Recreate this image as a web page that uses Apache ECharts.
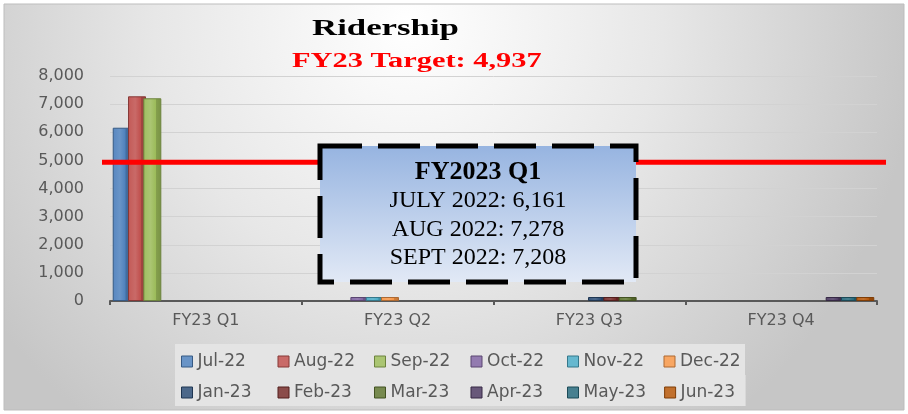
<!DOCTYPE html>
<html>
<head>
<meta charset="utf-8">
<script src="https://cdn.jsdelivr.net/npm/echarts@6/dist/echarts.min.js"></script>
<style>
  html, body { margin: 0; padding: 0; background: #fff; }
  #chart { width: 908px; height: 414px; }
</style>
</head>
<body>
<div id="chart"></div>
<script>
  var categories = ['FY23 Q1', 'FY23 Q2', 'FY23 Q3', 'FY23 Q4'];
  var months = ['Jul-22', 'Aug-22', 'Sep-22', 'Oct-22', 'Nov-22', 'Dec-22',
                'Jan-23', 'Feb-23', 'Mar-23', 'Apr-23', 'May-23', 'Jun-23'];
  // riders per month, three months per quarter
  var q1Riders = [6161, 7278, 7208];
  var q2Riders = [0, 0, 0];
  var q3Riders = [0, 0, 0];
  var q4Riders = [0, 0, 0];
  var target = 4937;
  var yMax = 8000;
  var yStep = 1000;
  var chartTitle = 'Ridership';
  var boxTitle = 'FY2023 Q1';
  var boxMonths = ['JULY 2022', 'AUG 2022', 'SEPT 2022'];

  var colors = ['#4F81BD', '#C0504D', '#9BBB59', '#8064A2', '#4BACC6', '#F79646',
                '#2C4D75', '#772C2A', '#5F7530', '#4D3B62', '#276A7C', '#B65708'];

  function fmt(v) { return Number(v).toLocaleString('en-US'); }

  function shade(hex, f) {
    var n = parseInt(hex.slice(1), 16);
    var r = n >> 16, g = (n >> 8) & 255, b = n & 255;
    function c(x) {
      x = f > 0 ? x + (255 - x) * f : x * (1 + f);
      return Math.round(Math.max(0, Math.min(255, x)));
    }
    return 'rgb(' + c(r) + ',' + c(g) + ',' + c(b) + ')';
  }

  var quarters = [q1Riders, q2Riders, q3Riders, q4Riders];

  var series = months.map(function (m, i) {
    var q = Math.floor(i / 3);
    var data = categories.map(function (c, k) {
      return k === q ? quarters[q][i % 3] : null;
    });
    var base = colors[i];
    return {
      name: m,
      type: 'bar',
      data: data,
      barWidth: 18,
      barGap: '-15%',
      barMinHeight: 4,
      itemStyle: {
        color: new echarts.graphic.LinearGradient(0, 0, 1, 0, [
          {offset: 0, color: shade(base, 0.05)},
          {offset: 0.4, color: shade(base, 0.15)},
          {offset: 0.7, color: base},
          {offset: 0.72, color: shade(base, -0.15)},
          {offset: 1, color: shade(base, -0.22)}
        ]),
        borderColor: shade(base, -0.3),
        borderWidth: 1
      }
    };
  });

  // target line on its own wider grid, same value scale
  series.push({
    name: 'Target',
    type: 'line',
    xAxisIndex: 1,
    yAxisIndex: 1,
    data: [[0, target], [1, target]],
    symbol: 'none',
    lineStyle: {color: '#FF0000', width: 5},
    z: 10,
    silent: true
  });

  function legendRow(names, offset, top) {
    return {
      data: names.map(function (m, i) {
        var c = colors[offset + i];
        return {name: m, itemStyle: {color: shade(c, 0.15), borderColor: shade(c, -0.3), borderWidth: 1}};
      }),
      left: 175,
      top: top,
      padding: [6, 3, 2, 6],
      itemGap: 18,
      itemWidth: 11,
      itemHeight: 11,
      icon: 'rect',
      selectedMode: false,
      backgroundColor: '#e4e4e4',
      textStyle: {fontFamily: 'DejaVu Sans', fontSize: 17, color: '#595959', width: 62, lineHeight: 23}
    };
  }

  var boxX = 320, boxY = 146, boxW = 316, boxH = 136, boxCx = boxX + boxW / 2;
  var boxLines = boxMonths.map(function (m, i) { return m + ': ' + fmt(q1Riders[i]); });

  function boxText(text, y, font) {
    return {
      type: 'text', z: 101, silent: true, x: boxCx, y: y,
      style: {text: text, align: 'center', verticalAlign: 'middle', font: font, fill: '#000'}
    };
  }

  var node = document.getElementById('chart');
  var myCharts = echarts.init(node);
  var option = {
    animation: false,
    legend: [
      legendRow(months.slice(0, 6), 0, 344),
      legendRow(months.slice(6), 6, 375)
    ],
    grid: [
      {left: 110, top: 76, width: 767, height: 225, containLabel: false},
      {left: 102, top: 76, width: 784, height: 225, containLabel: false}
    ],
    xAxis: [
      {
        type: 'category',
        data: categories,
        gridIndex: 0,
        axisLine: {lineStyle: {color: '#595959', width: 2}},
        axisTick: {show: true, length: 4, lineStyle: {color: '#595959', width: 2}},
        axisLabel: {color: '#595959', fontFamily: 'DejaVu Sans', fontSize: 16, margin: 12}
      },
      {type: 'value', gridIndex: 1, min: 0, max: 1, show: false}
    ],
    yAxis: [
      {
        type: 'value',
        gridIndex: 0,
        min: 0,
        max: yMax,
        interval: yStep,
        axisLine: {show: false},
        axisTick: {show: false},
        axisLabel: {
          color: '#595959', fontFamily: 'DejaVu Sans', fontSize: 16, margin: 26,
          formatter: function (v) { return fmt(v); }
        },
        splitLine: {lineStyle: {color: '#d2d2d2', width: 1}}
      },
      {type: 'value', gridIndex: 1, min: 0, max: yMax, show: false}
    ],
    series: series,
    graphic: [
      {
        type: 'rect',
        z: -10,
        silent: true,
        shape: {x: 4, y: 4, width: 900, height: 406},
        style: {
          fill: new echarts.graphic.RadialGradient(0.45, 0.05, 1.25, [
            {offset: 0, color: '#ffffff'},
            {offset: 0.5, color: '#e7e7e7'},
            {offset: 1, color: '#c6c6c6'}
          ]),
          stroke: '#bdbdbd',
          lineWidth: 1
        }
      },
      // the chart title was stretched sideways in the original
      {
        type: 'text', z: 20, silent: true, x: 312, y: 29, scaleX: 1.45,
        style: {text: chartTitle, align: 'left', verticalAlign: 'middle',
                font: 'bold 24px "Liberation Serif"', fill: '#000'}
      },
      {
        type: 'text', z: 20, silent: true, x: 292, y: 62, scaleX: 1.52,
        style: {text: 'FY23 Target: ' + fmt(target), align: 'left', verticalAlign: 'middle',
                font: 'bold 20px "Liberation Serif"', fill: '#FF0000'}
      },
      {
        type: 'rect',
        z: 100,
        silent: true,
        shape: {x: boxX, y: boxY, width: boxW, height: boxH},
        style: {
          fill: new echarts.graphic.LinearGradient(0, 0, 0, 1, [
            {offset: 0, color: '#95B3E0'},
            {offset: 1, color: '#E3EAF6'}
          ]),
          stroke: '#000',
          lineWidth: 5,
          lineDash: [42, 16]
        }
      },
      boxText(boxTitle, 172, 'bold 26px "Liberation Serif"'),
      boxText(boxLines[0], 201, '24px "Liberation Serif"'),
      boxText(boxLines[1], 230, '24px "Liberation Serif"'),
      boxText(boxLines[2], 258, '24px "Liberation Serif"')
    ]
  };
  myCharts.setOption(option);
</script>
</body>
</html>
